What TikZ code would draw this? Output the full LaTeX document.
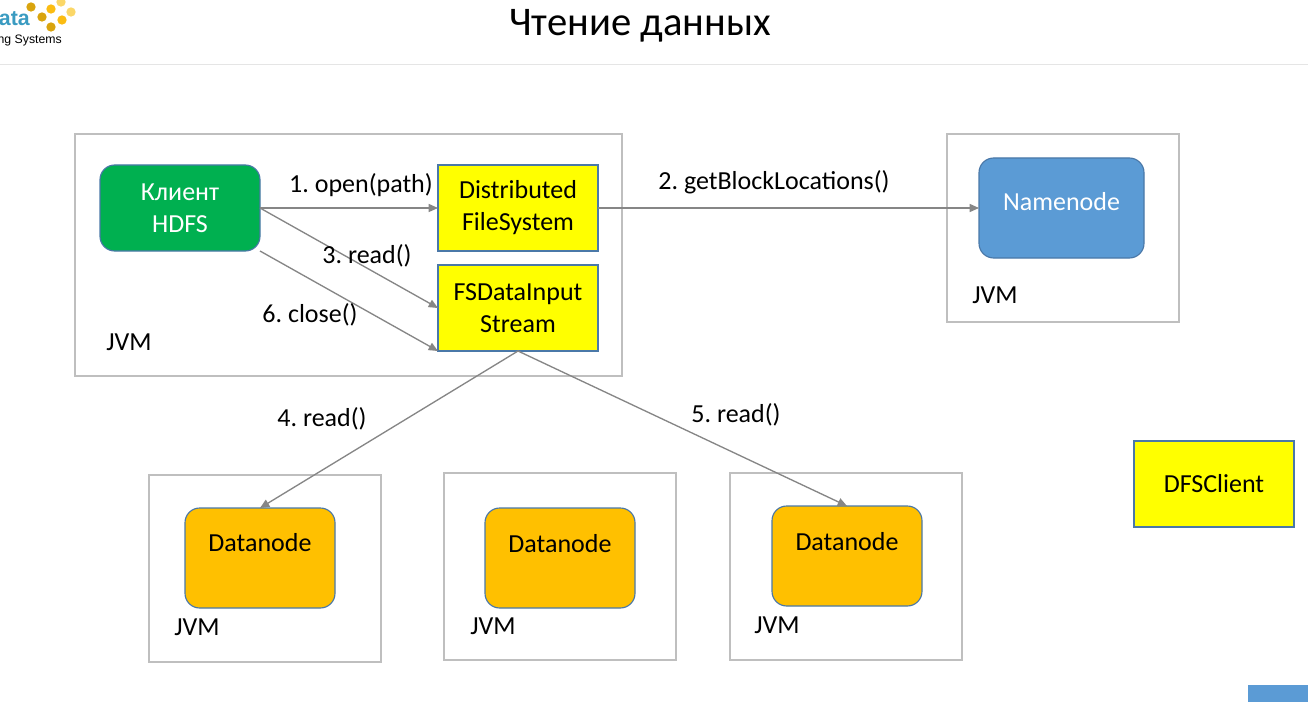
\documentclass[tikz,border=0pt]{standalone}
\usepackage{fontspec}
\setmainfont{Carlito}
\newfontfamily\logofont{Liberation Sans}
\usetikzlibrary{arrows.meta}
\frenchspacing
\definecolor{jvmgray}{HTML}{BFBFBF}
\definecolor{arrowgray}{HTML}{868686}
\definecolor{boxblue}{HTML}{4A78A8}
\definecolor{boxyellow}{HTML}{FFFF00}
\definecolor{clientgreen}{HTML}{00B050}
\definecolor{namenodeblue}{HTML}{5B9BD5}
\definecolor{datanodeorange}{HTML}{FFC000}
\definecolor{logoblue}{HTML}{3A9BC1}
\definecolor{dotdark}{HTML}{D9A40E}
\definecolor{dotmid}{HTML}{FBBC12}
\definecolor{dotlight}{HTML}{FBD768}
\tikzset{
	jvmbox/.style={draw=jvmgray, line width=0.9pt, fill=white, inner sep=0pt, outer sep=0pt},
	yellowbox/.style={draw=boxblue, line width=0.85pt, fill=boxyellow, align=center, inner sep=0pt, outer sep=0pt, minimum width=120pt, minimum height=64.5pt, font=\fontsize{19.5}{24}\selectfont},
	roundbox/.style={draw=boxblue, line width=0.85pt, rounded corners=11pt, inner sep=0pt, outer sep=0pt},
	datanode/.style={roundbox, fill=datanodeorange, minimum width=112.5pt, minimum height=75pt},
	lbl/.style={anchor=base, inner sep=0pt, font=\fontsize{19.5}{24}\selectfont},
	conn/.style={draw=arrowgray, line width=1pt, -{Triangle[length=7pt, width=6pt]}},
	logodot/.style={circle, minimum size=7pt, inner sep=0pt}
}

\begin{document}
\begin{tikzpicture}[x=0.75pt, y=-0.75pt]
	%%%%% START %%%%%
	\useasboundingbox (0, 0) rectangle (1308, 702);

	% header
	\node[anchor=base, inner sep=0pt, font=\fontsize{30.5}{34}\selectfont] (title) at (640, 36) {Чтение данных};
	\draw[color=black!10, line width=0.75pt] (0, 65) -- (1308, 65);
	\node[anchor=base east, inner sep=0pt, text=logoblue, font=\logofont\bfseries\fontsize{16}{18}\selectfont] (logotop) at (30, 26) {ata};
	\node[anchor=base east, inner sep=0pt, font=\logofont\fontsize{9.2}{11}\selectfont] (logobottom) at (62, 44) {ng Systems};
	\node[logodot, fill=dotdark] (dota) at (31, 7) {};
	\node[logodot, fill=dotmid] (dotb) at (51, 9) {};
	\node[logodot, fill=dotlight] (dotc) at (61, 2) {};
	\node[logodot, fill=dotlight] (dotd) at (71, 12) {};
	\node[logodot, fill=dotdark] (dote) at (42, 17) {};
	\node[logodot, fill=dotmid] (dotf) at (62, 20) {};
	\node[logodot, fill=dotdark] (dotg) at (51, 27) {};
	\fill[namenodeblue] (1248, 685) rectangle (1308, 702);

	% jvm frames
	\draw[jvmbox] (75, 134) rectangle (622, 376);
	\draw[jvmbox] (947, 134) rectangle (1179, 322);
	\draw[jvmbox] (149, 475) rectangle (381, 662);
	\draw[jvmbox] (444, 473) rectangle (676, 660);
	\draw[jvmbox] (730, 473) rectangle (962, 660);
	\node[lbl] (jvma) at (129, 350) {JVM};
	\node[lbl] (jvmb) at (995, 303) {JVM};
	\node[lbl] (jvmc) at (197, 635) {JVM};
	\node[lbl] (jvmd) at (493, 634) {JVM};
	\node[lbl] (jvme) at (777, 633) {JVM};

	% boxes
	\node[roundbox, fill=clientgreen, text=white, align=center, minimum width=120pt, minimum height=64.5pt, font=\fontsize{19.5}{24}\selectfont] (client) at (180, 208) {Клиент\\HDFS};
	\node[yellowbox] (dfs) at (518, 208) {Distributed\\FileSystem};
	\node[yellowbox] (fsd) at (518, 308) {FSDataInput\\Stream};
	\node[yellowbox] (dfsclient) at (1214, 484) {DFSClient};
	\node[roundbox, fill=namenodeblue, minimum width=123.75pt, minimum height=75pt] (namenode) at (1061.5, 208) {};
	\node[lbl, text=white] (namenodelbl) at (1061.5, 210) {Namenode};
	\node[datanode] (dna) at (260, 558) {};
	\node[datanode] (dnb) at (560, 558) {};
	\node[datanode] (dnc) at (847, 556) {};
	\node[lbl] (dnalbl) at (260, 551) {Datanode};
	\node[lbl] (dnblbl) at (560, 552) {Datanode};
	\node[lbl] (dnclbl) at (847, 550) {Datanode};

	% connectors
	\draw[conn] (client.east) -- (dfs.west);
	\draw[conn] (client.east) -- (fsd.west);
	\draw[conn] (client.south east) -- (fsd.south west);
	\draw[conn] (dfs.east) -- (namenode.west);
	\draw[conn] (fsd.south) -- (dna.north);
	\draw[conn] (fsd.south) -- (dnc.north);

	% connector labels
	\node[lbl] (open) at (361, 192.5) {1. open(path)};
	\node[lbl] (locations) at (774, 189.5) {2. getBlockLocations()};
	\node[lbl] (reada) at (367, 263.5) {3. read()};
	\node[lbl] (close) at (310, 322.5) {6. close()};
	\node[lbl] (readb) at (322, 426) {4. read()};
	\node[lbl] (readc) at (736, 422) {5. read()};
	%%%%% END %%%%%
\end{tikzpicture}
\end{document}
